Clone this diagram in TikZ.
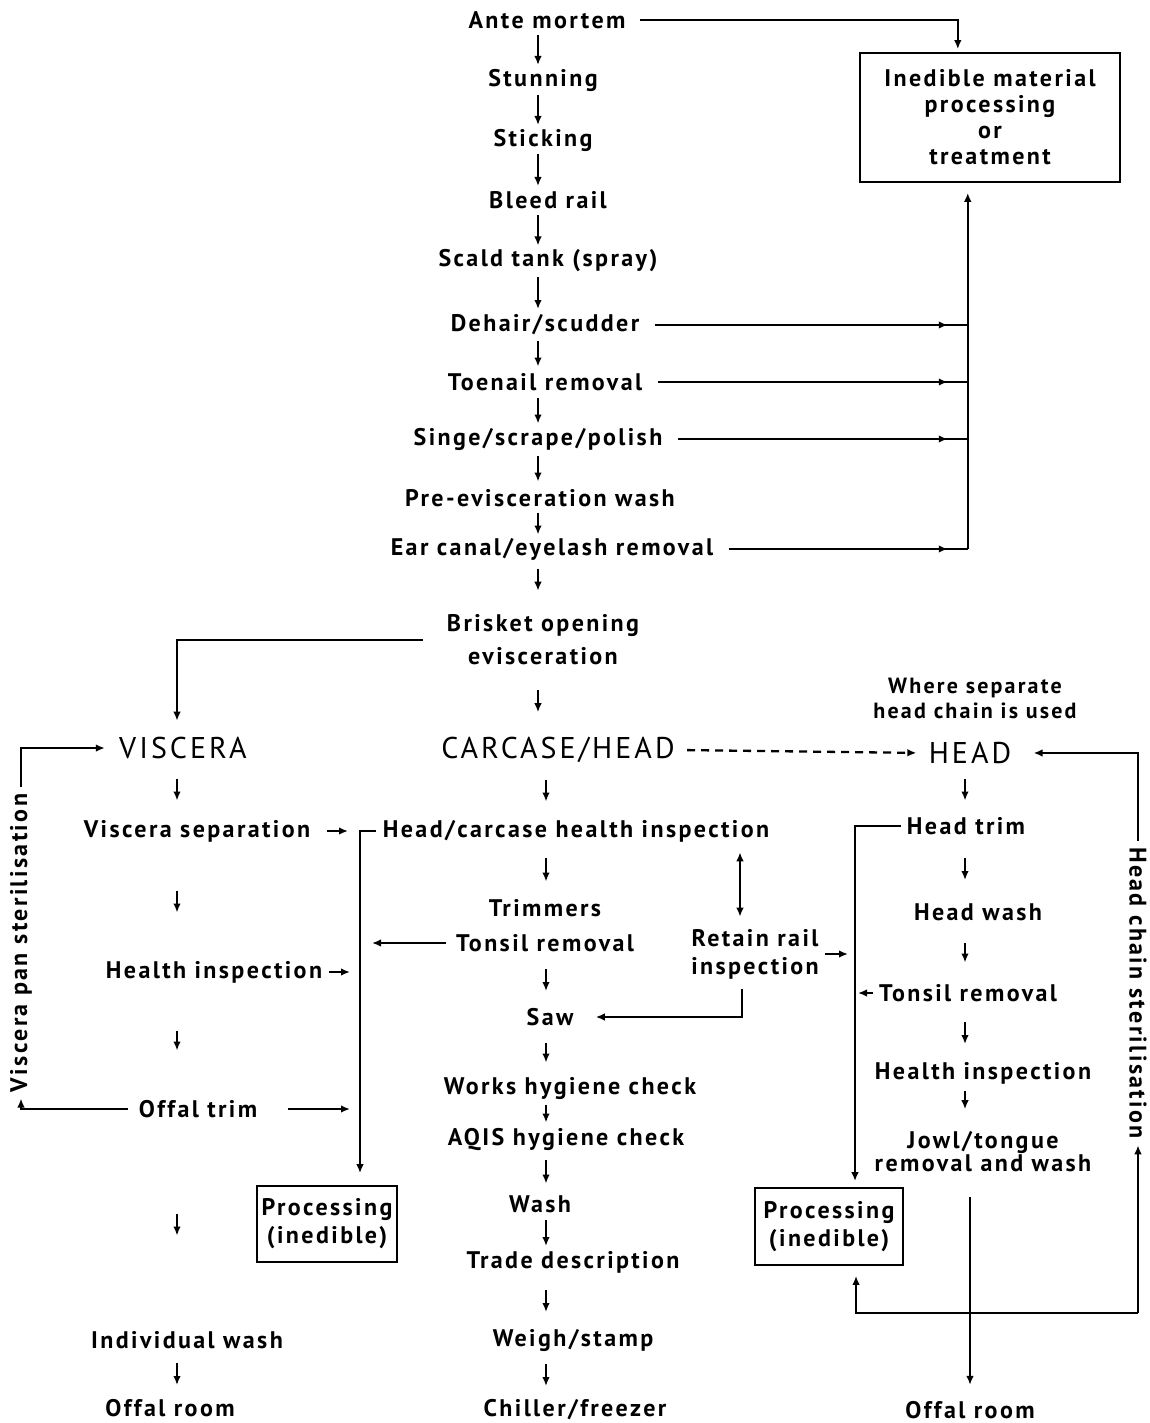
\documentclass[tikz,border=0pt]{standalone}
\usepackage{fontspec}
\setmainfont{PT Sans}[LetterSpace=10]
\usetikzlibrary{arrows.meta,calc,decorations.markings}
\newcommand\midarr[4]{\path ($(#1)!0.5!(#2)$) coordinate (mtmp);
  \draw[arr] (#3 |- mtmp) ++(0,-#4) -- ++(0,{2*#4});}
\begin{document}
\begin{tikzpicture}[x=0.5pt,y=-0.5pt,
  t/.style={font=\bfseries\fontsize{12}{13}\selectfont, inner sep=2pt, align=center},
  tl/.style={font=\bfseries\fontsize{12}{#1}\selectfont, inner sep=2pt, align=center},
  big/.style={font=\fontsize{15}{16}\selectfont, inner sep=2pt},
  arr/.style={-{Latex[length=4.5pt,width=3.8pt]}, line width=1.15pt},
  ln/.style={line width=1.15pt},
  pbox/.style={draw, line width=0.9pt, inner sep=0pt},
  midtip/.style={postaction=decorate, decoration={markings, mark=at position -10pt with {\arrow{Latex[length=4.5pt,width=3.8pt]}}}}
]
\useasboundingbox (0,0) rectangle (1150,1423);
% column x references
\coordinate (ctop) at (538,0);
\coordinate (cmid) at (546,0);
\coordinate (cleft) at (177,0);
\coordinate (cright) at (965,0);
% ---- top chain
\node[t] (ante) at (547,20) {Ante mortem};
\node[t] (stun) at (543,80) {Stunning};
\node[t] (stick) at (543,140) {Sticking};
\node[t] (bleed) at (548,200) {Bleed rail};
\node[t] (scald) at (548,261) {Scald tank (spray)};
\node[t] (dehair) at (545,325) {Dehair/scudder};
\node[t] (toe) at (545,382) {Toenail removal};
\node[t] (singe) at (538,439) {Singe/scrape/polish};
\node[t] (pre) at (540,498) {Pre-evisceration wash};
\node[t] (ear) at (552,549) {Ear canal/eyelash removal};
\node[tl=16.5pt] (bris) at (543,640) {Brisket opening\\evisceration};
\node[pbox, tl=13pt, minimum width=130pt, minimum height=64.5pt] (ined) at (990,117.5)
  {Inedible material\\processing\\or\\treatment};
% ---- main row
\node[big] (visc) at (183,748) {VISCERA};
\node[big] (carc) at (558,750) {CARCASE/HEAD};
\node[big] (head) at (970,753) {HEAD};
\node[align=center, inner sep=2pt, font=\bfseries\fontsize{11}{12.5}\selectfont] (where) at (975,698) {Where separate\\head chain is used};
% ---- left column
\node[t] (vsep) at (197,831) {Viscera separation};
\node[t] (hinspL) at (214,972) {Health inspection};
\node[t] (otrim) at (198,1109) {Offal trim};
\node[t] (indw) at (187,1340) {Individual wash};
\node[t] (offL) at (170,1408) {Offal room};
\node[pbox, tl=14pt, minimum width=70pt, minimum height=38pt] (procL) at (327,1224) {Processing\\(inedible)};
\node[t, rotate=90] (vps) at (21,943) {Viscera pan sterilisation};
% ---- centre column
\node[t] (hcinsp) at (576,831) {Head/carcase health inspection};
\node[t] (trim) at (545,908) {Trimmers};
\node[t] (tons) at (545,943) {Tonsil removal};
\node[tl=14pt] (retain) at (755,954) {Retain rail\\inspection};
\node[t] (saw) at (550,1017) {Saw};
\node[t] (works) at (570,1088) {Works hygiene check};
\node[t] (aqis) at (566,1139) {AQIS hygiene check};
\node[t] (wash) at (540,1204) {Wash};
\node[t] (trade) at (573,1262) {Trade description};
\node[t] (weigh) at (573,1340) {Weigh/stamp};
\node[t] (chill) at (575,1410) {Chiller/freezer};
% ---- right column
\node[t] (htrim) at (966,826) {Head trim};
\node[t] (hwash) at (978,912) {Head wash};
\node[t] (tonsR) at (968,993) {Tonsil removal};
\node[t] (hinspR) at (983,1073) {Health inspection};
\node[tl=11.5pt] (jowl) at (983,1152) {Jowl/tongue\\removal and wash};
\node[t] (offR) at (970,1410) {Offal room};
\node[pbox, tl=14pt, minimum width=74pt, minimum height=38.5pt] (procR) at (829,1226.5) {Processing\\(inedible)};
\node[t, rotate=-90] (hcs) at (1138,993) {Head chain sterilisation};

% ---- top chain arrows
\midarr{ante}{stun}{ctop}{15}
\midarr{stun}{stick}{ctop}{15}
\midarr{stick}{bleed}{ctop}{16}
\midarr{bleed}{scald}{ctop}{15}
\midarr{scald}{dehair}{ctop}{16}
\midarr{dehair}{toe}{ctop}{13}
\midarr{toe}{singe}{ctop}{13}
\midarr{singe}{pre}{ctop}{13}
\midarr{pre}{ear}{ctop}{11}
\midarr{ear}{bris.north}{ctop}{11}
\midarr{bris.south}{carc.north}{ctop}{11}
% ante mortem to inedible
\draw[arr, shorten <=5pt, shorten >=1.5pt] (ante.east) -| ($(ined.north west)!0.377!(ined.north east)$);
% collector
\coordinate (colTop) at ($(ined.south west)!0.415!(ined.south east)$);
\draw[arr, shorten >=5pt] (colTop |- ear) -- (colTop);
\foreach \n in {dehair,toe,singe,ear}
  \draw[ln, midtip, shorten <=5.5pt] (\n.east) -- (\n.east -| colTop);
% brisket to viscera
\draw[arr, shorten <=10pt, shorten >=6pt] (bris.west) -| ([xshift=-3pt]visc.north);
% carcase to head (dashed)
\draw[arr, dash pattern=on 4pt off 3pt, shorten <=4pt, shorten >=4pt] (carc.east) -- (head.west);
% ---- left column arrows
\midarr{visc}{vsep}{cleft}{11}
\midarr{vsep}{hinspL}{cleft}{11}
\midarr{hinspL}{otrim}{cleft}{10}
\midarr{otrim}{indw}{cleft}{11}
\midarr{indw}{offL}{cleft}{11}
% viscera pan sterilisation loop
\draw[arr, shorten <=3pt, shorten >=1pt] (otrim.west) -| (vps.west);
\draw[arr, shorten <=1pt, shorten >=5pt] (vps.east) |- (visc.west);
% left bracket to processing
\coordinate (bx) at ([xshift=16.5pt]procL.north);
\draw[arr, shorten <=1pt, shorten >=6pt] (hcinsp.west) -| (bx);
\draw[arr, shorten <=6pt, shorten >=6pt] (vsep.east) -- (vsep.east -| bx);
\draw[arr, shorten <=1pt, shorten >=5pt] (hinspL.east) -- (hinspL.east -| bx);
\draw[arr, shorten <=13pt, shorten >=5pt] (otrim.east) -- (otrim.east -| bx);
\draw[arr, shorten <=3pt, shorten >=6pt] (tons.west) -- (tons.west -| bx);
% ---- centre column arrows
\midarr{carc}{hcinsp}{cmid}{11}
\midarr{hcinsp}{trim}{cmid}{12}
\midarr{tons}{saw}{cmid}{11}
\midarr{saw}{works}{cmid}{10}
\midarr{works}{aqis}{cmid}{9}
\midarr{aqis}{wash}{cmid}{12}
\midarr{wash}{trade}{cmid}{13}
\midarr{trade}{weigh}{cmid}{11}
\midarr{weigh}{chill}{cmid}{11}
% retain rail
\coordinate (dbx) at (740,0);
\draw[{Latex[length=4.5pt,width=3.8pt]}-{Latex[length=4.5pt,width=3.8pt]}, line width=1.15pt, shorten <=3pt, shorten >=4pt]
  (dbx |- hcinsp.south) -- (dbx |- retain.north);
\coordinate (bxR) at ([xshift=13pt]procR.north);
\draw[arr, shorten <=1pt, shorten >=3.5pt] (retain.east) -- (retain.east -| bxR);
\draw[arr, shorten <=3pt, shorten >=9pt] ([xshift=-6.5pt]retain.south) |- (saw.east);
% ---- right column arrows
\midarr{head}{htrim}{cright}{11}
\midarr{htrim}{hwash}{cright}{11}
\midarr{hwash}{tonsR}{cright}{10}
\midarr{tonsR}{hinspR}{cright}{11}
\midarr{hinspR}{jowl.north}{cright}{9}
\draw[arr, shorten <=1pt, shorten >=3pt] (htrim.west) -| (bxR);
\draw[arr, shorten <=1pt, shorten >=1.5pt] (tonsR.west) -- (tonsR.west -| bxR);
\draw[arr, shorten <=10pt, shorten >=6pt] (jowl.south -| offR) -- (offR.north);
% head chain sterilisation loop
\coordinate (hcb) at (hcs |- 0,1313);
\draw[arr, shorten >=5pt] (hcb) -| ([xshift=13.5pt]procR.south);
\draw[arr, shorten >=1pt] (hcb) -- (hcs.east);
\draw[arr, shorten <=1pt, shorten >=9pt] (hcs.west) |- (head.east);
\end{tikzpicture}
\end{document}
